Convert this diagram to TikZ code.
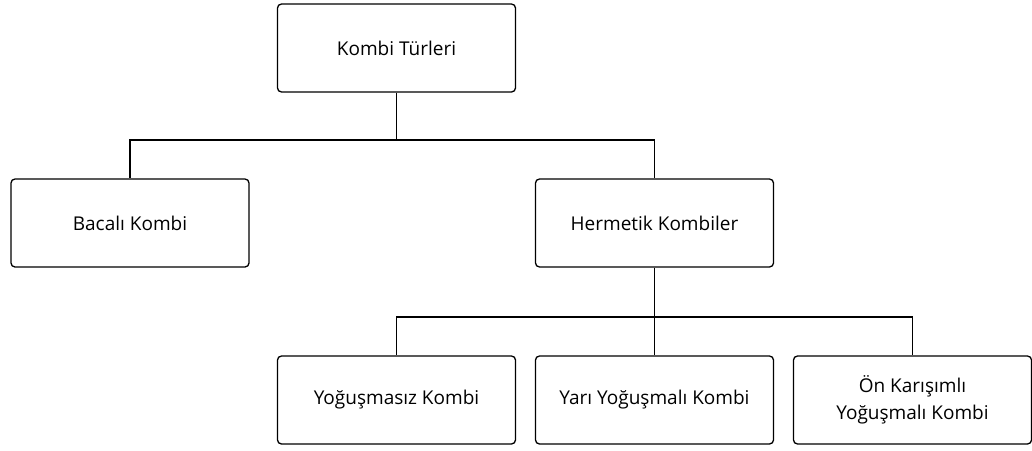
\documentclass[tikz,border=0pt]{standalone}
\usepackage{fontspec}
\setmainfont{Open Sans}[Ligatures={NoCommon}]
\usetikzlibrary{positioning}

\begin{document}
\begin{tikzpicture}[x=1pt, y=-1pt, node distance=258pt, on grid,
    kutu/.style={draw, rectangle, rounded corners=4pt, line width=1.3pt,
      minimum width=238pt, minimum height=88pt, align=center,
      font=\fontsize{19}{27}\selectfont, inner sep=0pt},
    bag/.style={line width=1.3pt}]
    \useasboundingbox (0,0) rectangle (1032,450);
    \node[kutu](kok) at (396.5,48){Kombi Türleri};
    \node[kutu](baca) at (130,223){Bacalı Kombi};
    \node[kutu](herm) at (654.5,223){Hermetik Kombiler};
    \node[kutu](yogsuz) at (396.5,400){Yoğuşmasız Kombi};
    \node[kutu, right =of yogsuz](yari){Yarı Yoğuşmalı Kombi};
    \node[kutu, right =of yari](onkar){Ön Karışımlı\\Yoğuşmalı Kombi};
    \coordinate (d1) at (396.5,140);
    \coordinate (d2) at (654.5,317);
    \draw[bag] (kok.south) -- (d1) -| (baca.north);
    \draw[bag] (d1) -| (herm.north);
    \draw[bag] (herm.south) -- (d2) -| (yogsuz.north);
    \draw[bag] (d2) -| (onkar.north);
    \draw[bag] (d2) -- (yari.north);
\end{tikzpicture}
\end{document}
